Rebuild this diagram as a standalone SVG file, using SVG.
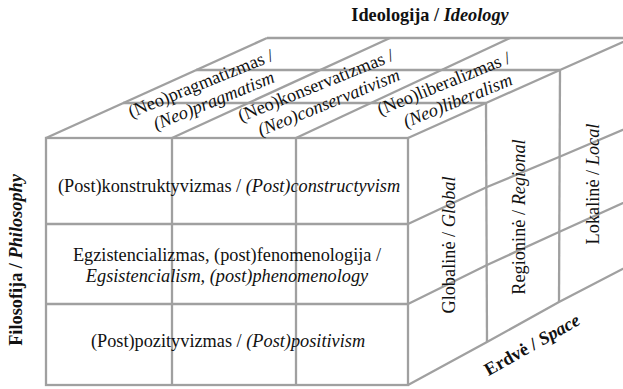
<svg xmlns="http://www.w3.org/2000/svg" width="623" height="389" viewBox="0 0 623 389">
<style>
.ln{fill:none;stroke:#a0a0a0;stroke-width:2.3;stroke-linejoin:miter}
text{font-family:"Liberation Serif","Times New Roman",serif;font-size:18.3px;fill:#111}
.b{font-weight:bold}
.i{font-style:italic}
.m{text-anchor:middle}
</style>
<rect width="623" height="389" fill="#ffffff"/>
<g id="connectors">
<rect class="ln" x="46" y="138" width="362" height="247"/>
<line class="ln" x1="172" y1="138" x2="172" y2="385"/>
<line class="ln" x1="296" y1="138" x2="296" y2="385"/>
<line class="ln" x1="46" y1="224" x2="408" y2="224"/>
<line class="ln" x1="46" y1="304" x2="408" y2="304"/>
<line class="ln" x1="46" y1="138" x2="267" y2="38"/>
<line class="ln" x1="172" y1="138" x2="390" y2="38"/>
<line class="ln" x1="296" y1="138" x2="510" y2="38"/>
<line class="ln" x1="123" y1="103" x2="486" y2="103"/>
<line class="ln" x1="196" y1="70" x2="560" y2="70"/>
<line class="ln" x1="267" y1="38" x2="625" y2="38"/>
<polyline class="ln" points="408,138 486,103 560,70 632,38"/>
<polyline class="ln" points="408,224 487,187 559,157 632,126"/>
<polyline class="ln" points="408,304 487,265 559,232 632,199"/>
<polyline class="ln" points="408,385 487,342 559,302 632,264"/>
<line class="ln" x1="486" y1="103" x2="487" y2="342"/>
<line class="ln" x1="560" y1="70" x2="559" y2="302"/>
</g>
<g id="title-ideology"><text class="b m" x="430" y="21">Ideologija / <tspan class="i">Ideology</tspan></text></g>
<g id="title-philosophy"><text class="b m" transform="translate(22,260) rotate(-90)">Filosofija / <tspan class="i">Philosophy</tspan></text></g>
<g id="title-space"><text class="b m" transform="translate(535,350) rotate(-29.5)">Erdvė / <tspan class="i">Space</tspan></text></g>
<g id="ideo-pragmatism">
<text class="m" transform="translate(203,89) rotate(-22)">(Neo)pragmatizmas /</text>
<text class="m i" transform="translate(216,106) rotate(-22)">(Neo)pragmatism</text>
</g>
<g id="ideo-conservatism">
<text class="m" transform="translate(318,91) rotate(-22)">(Neo)konservatizmas /</text>
<text class="m i" transform="translate(331,108) rotate(-22)">(Neo)conservativism</text>
</g>
<g id="ideo-liberalism">
<text class="m" transform="translate(446,89) rotate(-22)">(Neo)liberalizmas /</text>
<text class="m i" transform="translate(460,106) rotate(-22)">(Neo)liberalism</text>
</g>
<g id="phil-constructivism"><text class="m" x="229" y="192">(Post)konstruktyvizmas / <tspan class="i">(Post)constructyvism</tspan></text></g>
<g id="phil-existentialism">
<text class="m" x="227" y="261">Egzistencializmas, (post)fenomenologija /</text>
<text class="m i" x="227" y="282">Egsistencialism, (post)phenomenology</text>
</g>
<g id="phil-positivism"><text class="m" x="228" y="347">(Post)pozityvizmas / <tspan class="i">(Post)positivism</tspan></text></g>
<g id="space-global"><text class="m" transform="translate(455,245) rotate(-90)">Globalinė / <tspan class="i">Global</tspan></text></g>
<g id="space-regional"><text class="m" transform="translate(525,217) rotate(-90)">Regioninė / <tspan class="i">Regional</tspan></text></g>
<g id="space-local"><text class="m" transform="translate(599,184) rotate(-90)">Lokalinė / <tspan class="i">Local</tspan></text></g>
</svg>
